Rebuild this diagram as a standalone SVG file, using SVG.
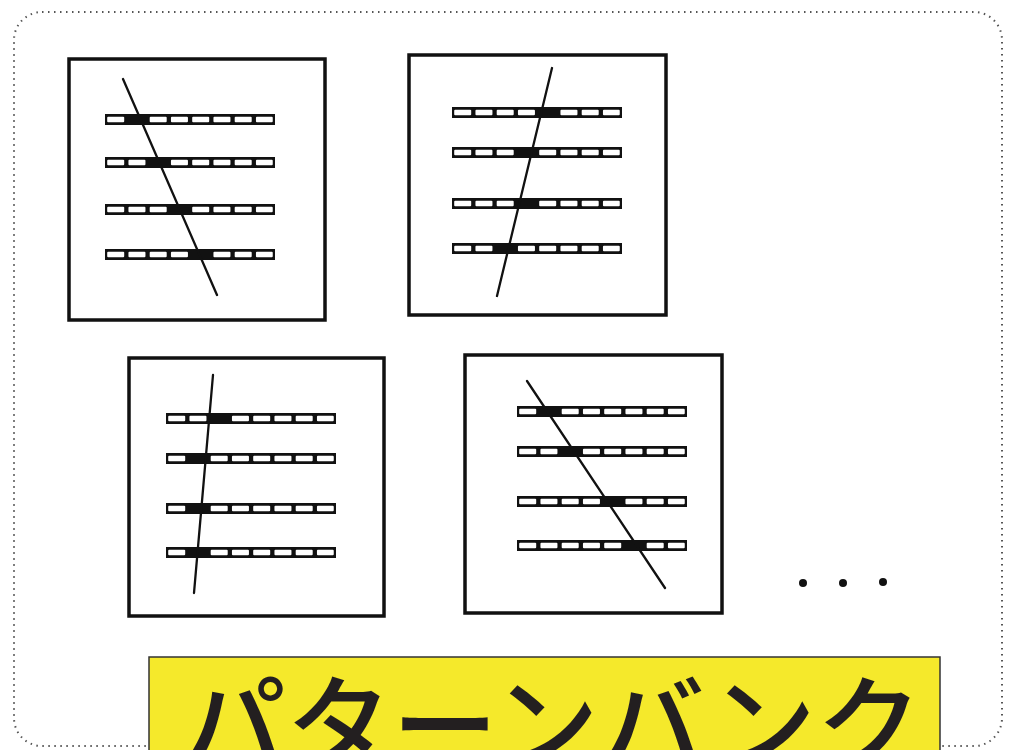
<svg xmlns="http://www.w3.org/2000/svg" xmlns:xlink="http://www.w3.org/1999/xlink" width="1013" height="750" viewBox="0 0 1013 750">
<style>
.frame{fill:#fff;stroke:#111;stroke-width:3.5}
.slash{stroke:#111;stroke-width:2.3;fill:none;stroke-linecap:round}
.dark{fill:#111}
.dot{fill:#111}
.border{fill:none;stroke:#555;stroke-width:2;stroke-dasharray:1.5 4.5}
.label{fill:#f5e92b;stroke:#333;stroke-width:1.5}
.ltxt{font-family:"Noto Sans CJK JP","Noto Sans CJK SC",sans-serif;font-size:106px;font-weight:500;fill:#231f20}
</style>
<defs>
<g id="bar">
<rect x="0" y="0" width="170" height="11" fill="#111"/>
<g fill="#fff">
<rect x="2.2" y="2.8" width="17" height="5.4" rx="1"/>
<rect x="23.45" y="2.8" width="17" height="5.4" rx="1"/>
<rect x="44.7" y="2.8" width="17" height="5.4" rx="1"/>
<rect x="65.95" y="2.8" width="17" height="5.4" rx="1"/>
<rect x="87.2" y="2.8" width="17" height="5.4" rx="1"/>
<rect x="108.45" y="2.8" width="17" height="5.4" rx="1"/>
<rect x="129.7" y="2.8" width="17" height="5.4" rx="1"/>
<rect x="150.95" y="2.8" width="16.8" height="5.4" rx="1"/>
</g>
</g>
</defs>
<rect width="1013" height="750" fill="#fff"/>
<rect class="border" x="14" y="12" width="988" height="734" rx="28"/>

<g id="pattern1">
<rect class="frame" x="69" y="59" width="256" height="261"/>
<use xlink:href="#bar" x="105" y="114"/>
<use xlink:href="#bar" x="105" y="157"/>
<use xlink:href="#bar" x="105" y="204"/>
<use xlink:href="#bar" x="105" y="249"/>
<rect class="dark" x="126" y="114" width="21" height="11"/>
<rect class="dark" x="147" y="157" width="21" height="11"/>
<rect class="dark" x="169" y="204" width="21" height="11"/>
<rect class="dark" x="190" y="249" width="21" height="11"/>
<line class="slash" x1="123" y1="79" x2="217" y2="295"/>
</g>

<g id="pattern2">
<rect class="frame" x="409" y="55" width="257" height="260"/>
<use xlink:href="#bar" x="452" y="107"/>
<use xlink:href="#bar" x="452" y="147"/>
<use xlink:href="#bar" x="452" y="198"/>
<use xlink:href="#bar" x="452" y="243"/>
<rect class="dark" x="537" y="107" width="21" height="11"/>
<rect class="dark" x="516" y="147" width="21" height="11"/>
<rect class="dark" x="516" y="198" width="21" height="11"/>
<rect class="dark" x="494" y="243" width="21" height="11"/>
<line class="slash" x1="552" y1="68" x2="497" y2="296"/>
</g>

<g id="pattern3">
<rect class="frame" x="129" y="358" width="255" height="258"/>
<use xlink:href="#bar" x="166" y="413"/>
<use xlink:href="#bar" x="166" y="453"/>
<use xlink:href="#bar" x="166" y="503"/>
<use xlink:href="#bar" x="166" y="547"/>
<rect class="dark" x="208" y="413" width="21" height="11"/>
<rect class="dark" x="187" y="453" width="21" height="11"/>
<rect class="dark" x="187" y="503" width="21" height="11"/>
<rect class="dark" x="187" y="547" width="21" height="11"/>
<line class="slash" x1="213" y1="375" x2="194" y2="593"/>
</g>

<g id="pattern4">
<rect class="frame" x="465" y="355" width="257" height="258"/>
<use xlink:href="#bar" x="517" y="406"/>
<use xlink:href="#bar" x="517" y="446"/>
<use xlink:href="#bar" x="517" y="496"/>
<use xlink:href="#bar" x="517" y="540"/>
<rect class="dark" x="538" y="406" width="21" height="11"/>
<rect class="dark" x="560" y="446" width="21" height="11"/>
<rect class="dark" x="602" y="496" width="21" height="11"/>
<rect class="dark" x="623" y="540" width="21" height="11"/>
<line class="slash" x1="527" y1="381" x2="665" y2="588"/>
</g>

<g id="ellipsis">
<circle class="dot" cx="803" cy="583" r="4"/>
<circle class="dot" cx="843" cy="583" r="4"/>
<circle class="dot" cx="883" cy="582" r="4"/>
</g>

<g id="label">
<rect class="label" x="149" y="657" width="791" height="110"/>
<text class="ltxt" x="551" y="764" text-anchor="middle">パターンバンク</text>
</g>
</svg>
